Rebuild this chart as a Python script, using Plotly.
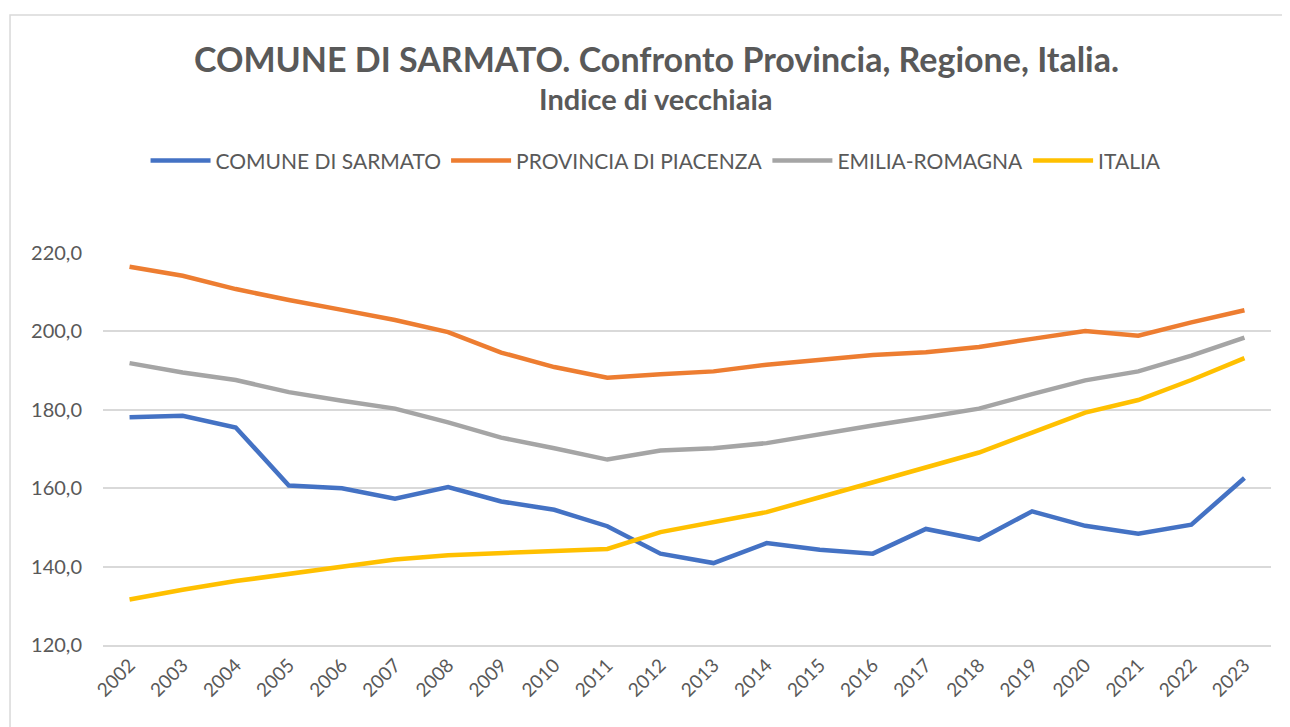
import plotly.graph_objects as go

anni = list(range(2002, 2024))

sarmato = [178.1, 178.5, 175.5, 160.7, 160.0, 157.3, 160.3, 156.6, 154.5, 150.3, 143.3,
           140.9, 146.0, 144.3, 143.3, 149.6, 146.9, 154.1, 150.4, 148.4, 150.7, 162.6]
piacenza = [216.5, 214.2, 210.8, 208.0, 205.5, 202.9, 199.8, 194.6, 190.9, 188.2, 189.1,
            189.8, 191.5, 192.7, 194.0, 194.7, 196.0, 198.1, 200.1, 198.9, 202.3, 205.4]
emilia = [191.9, 189.5, 187.6, 184.5, 182.3, 180.3, 176.8, 172.9, 170.2, 167.3, 169.6,
          170.2, 171.5, 173.8, 176.0, 178.1, 180.3, 184.0, 187.5, 189.8, 193.8, 198.4]
italia = [131.6, 134.1, 136.3, 138.1, 140.1, 141.8, 142.9, 143.5, 144.1, 144.5, 148.8,
          151.4, 153.9, 157.7, 161.5, 165.4, 169.1, 174.2, 179.3, 182.5, 187.6, 193.2]

serie = [
    ("COMUNE DI SARMATO", sarmato, "#4472C4"),
    ("PROVINCIA DI PIACENZA", piacenza, "#ED7D31"),
    ("EMILIA-ROMAGNA", emilia, "#A5A5A5"),
    ("ITALIA", italia, "#FFC000"),
]

grigio = "#595959"
font = "Lato"

fig = go.Figure()
for nome, valori, colore in serie:
    fig.add_trace(go.Scatter(
        x=anni, y=valori, name=nome, mode="lines",
        line=dict(color=colore, width=4.5)
    ))

# the page has an 8px body margin, so the figure is offset by (8, 8)
fig.update_layout(
    width=1290, height=727,
    margin=dict(l=95, r=27, t=245, b=90),
    paper_bgcolor="white", plot_bgcolor="white",
    separators=",.",
    font=dict(family=font, color=grigio, size=18),
    showlegend=True,
    legend=dict(
        orientation="h", x=0.4735, xanchor="center", y=1.235, yanchor="middle",
        font=dict(size=21, color=grigio), itemwidth=60, traceorder="normal"
    ),
    xaxis=dict(
        range=[2001.5, 2023.5], tickmode="array", tickvals=anni,
        ticktext=[str(a) for a in anni], tickangle=-45, showgrid=False,
        showline=True, linecolor="#D9D9D9", linewidth=1.5, zeroline=False,
        tickfont=dict(size=19, color=grigio), ticks=""
    ),
    yaxis=dict(
        range=[120, 220], dtick=20, tickformat=".1f", showgrid=True,
        gridcolor="#D9D9D9", gridwidth=1.5, zeroline=False, showline=False,
        tickfont=dict(size=20, color=grigio), ticklabelstandoff=20
    ),
    shapes=[dict(
        type="rect", xref="paper", yref="paper",
        x0=-0.0796, x1=1.0137, y0=-0.3, y1=1.607,
        line=dict(color="#D9D9D9", width=1.5), fillcolor="rgba(0,0,0,0)", layer="below"
    )],
    annotations=[
        dict(text="<b>COMUNE DI SARMATO. Confronto Provincia, Regione, Italia.</b>",
             xref="paper", yref="paper", x=0.4735, y=1.497, xanchor="center", yanchor="middle",
             showarrow=False, font=dict(size=34, color=grigio, family=font)),
        dict(text="<b>Indice di vecchiaia</b>",
             xref="paper", yref="paper", x=0.4735, y=1.393, xanchor="center", yanchor="middle",
             showarrow=False, font=dict(size=29, color=grigio, family=font)),
    ],
)

fig.write_html("out.html")
